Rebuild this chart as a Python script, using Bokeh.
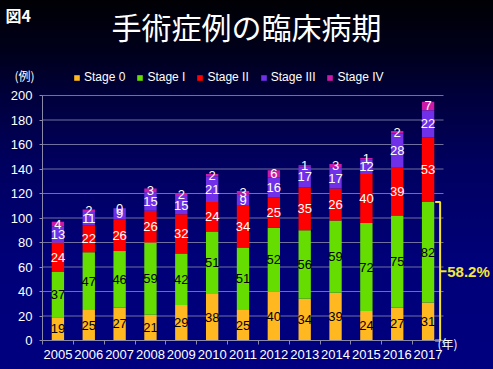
import numpy as np
from bokeh.plotting import figure
from bokeh.models import (Range1d, FixedTicker, Label, Legend, LegendItem, ColumnDataSource, LinearAxis)
from bokeh.core.properties import value
from bokeh.embed import file_html
from bokeh.resources import INLINE

years = ["2005", "2006", "2007", "2008", "2009", "2010", "2011",
         "2012", "2013", "2014", "2015", "2016", "2017"]
stage0 = [19, 25, 27, 21, 29, 38, 25, 40, 34, 39, 24, 27, 31]
stage1 = [37, 47, 46, 59, 42, 51, 51, 52, 56, 59, 72, 75, 82]
stage2 = [24, 22, 26, 26, 32, 24, 34, 25, 35, 26, 40, 39, 53]
stage3 = [13, 11, 9, 15, 15, 21, 9, 16, 17, 17, 12, 28, 22]
stage4 = [4, 2, 0, 3, 2, 2, 3, 6, 1, 3, 1, 2, 7]
stage_names = ["Stage 0", "Stage I", "Stage II", "Stage III", "Stage IV"]
colors = ["#FFB820", "#66DD00", "#FF0000", "#7030E8", "#CC1AA8"]
label_colors = ["black", "black", "white", "white", "white"]
share_text = "58.2%"
y_ticks = list(range(0, 201, 20))
y_max = 200

FONT = "Liberation Sans"
CJK = "Noto Sans CJK JP"

# layout (pixels): whole canvas is the frame; plot area placed inside it
W, H = 493, 369
AREA_L, AREA_R, AREA_T, AREA_B = 42, 443, 95, 340
n = len(years)
px_x = (AREA_R - AREA_L) / n
px_y = (AREA_B - AREA_T) / y_max
x0 = -0.5 - AREA_L / px_x
x1 = n - 0.5 + (W - AREA_R) / px_x
y0 = -(H - AREA_B) / px_y
y1 = y_max + AREA_T / px_y

series = [stage0, stage1, stage2, stage3, stage4]
keys = ["s0", "s1", "s2", "s3", "s4"]
xs = np.arange(n)
data = {"x": xs}
for k, s in zip(keys, series):
    data[k] = s
src = ColumnDataSource(data)

p = figure(width=W, height=H, output_backend="svg", toolbar_location=None,
           x_range=Range1d(x0, x1), y_range=Range1d(y0, y1),
           min_border=0, x_axis_location=None, y_axis_location=None)
p.border_fill_color = None
p.background_fill_color = None
p.outline_line_color = None
p.xgrid.visible = False
p.ygrid.visible = False
p.styles = {"background": "linear-gradient(to bottom, #000004 0%, #00001c 14%, #00003c 26%, #000060 45%, #000078 70%, #000080 100%)"}

# grid lines
p.segment(x0=[-0.5] * len(y_ticks), x1=[n - 0.5] * len(y_ticks), y0=y_ticks, y1=y_ticks,
          line_color="#70709e", line_width=1)

renderers = p.vbar_stack(keys, x="x", width=0.4, source=src, color=colors, line_color=None)

# value labels
cum = np.zeros(n)
for s, c in zip(series, label_colors):
    arr = np.array(s, dtype=float)
    mid = cum + arr / 2
    p.text(x=xs, y=mid, text=[str(v) for v in s], text_color=c, text_align="center",
           text_baseline="middle", text_font=value(FONT), text_font_size="13px")
    cum = cum + arr

# bracket around Stage 0 + Stage I of the last year
top = stage0[-1] + stage1[-1]
last = xs[-1]
p.multi_line(xs=[[last + 0.23, last + 0.39, last + 0.39, last + 0.23],
                 [last + 0.39, last + 0.6]],
             ys=[[0, 0, top, top], [top / 2, top / 2]],
             line_color="#F2E234", line_width=2)

# axes at fixed locations inside the frame
xaxis = LinearAxis(fixed_location=0, bounds=(-0.5, n - 0.5))
yaxis = LinearAxis(fixed_location=-0.5, bounds=(0, y_max))
p.add_layout(xaxis, "below")
p.add_layout(yaxis, "left")
yaxis.ticker = FixedTicker(ticks=y_ticks)
xaxis.ticker = FixedTicker(ticks=list(xs), minor_ticks=[i - 0.5 for i in range(n + 1)])
xaxis.major_label_overrides = {int(i): y for i, y in zip(xs, years)}
for ax in (xaxis, yaxis):
    ax.axis_line_color = "#8a8aa8"
    ax.major_label_text_color = "white"
    ax.major_label_text_font = FONT
    ax.major_label_text_font_size = "13px"
    ax.major_tick_line_color = "#8a8aa8"
    ax.minor_tick_line_color = "#8a8aa8"
xaxis.major_tick_out = 0
xaxis.major_tick_in = 0
xaxis.minor_tick_out = 4
xaxis.minor_tick_in = 0
xaxis.major_label_standoff = 5
yaxis.major_tick_out = 3
yaxis.major_tick_in = 0
yaxis.minor_tick_line_color = None
yaxis.major_label_standoff = 7

# legend
items = [LegendItem(label=nm, renderers=[r]) for nm, r in zip(stage_names, renderers)]
legend = Legend(items=items, orientation="horizontal", location=(73, 285),
                background_fill_alpha=0, border_line_color=None,
                label_text_color="white", label_text_font=FONT, label_text_font_size="12px",
                glyph_width=7, glyph_height=7, label_standoff=4, spacing=11,
                padding=0, margin=0, label_height=14)
p.add_layout(legend, "center")

# texts
p.add_layout(Label(x=246, y=344, x_units="screen", y_units="screen", text="手術症例の臨床病期",
                   text_color="white", text_font=CJK, text_font_size="30px",
                   text_align="center", text_baseline="middle"))
p.add_layout(Label(x=5, y=367, x_units="screen", y_units="screen", text="図4",
                   text_color="white", text_font=CJK, text_font_size="16px", text_font_style="bold",
                   text_align="left", text_baseline="top"))
p.add_layout(Label(x=14, y=294, x_units="screen", y_units="screen", text="(例)",
                   text_color="white", text_font=CJK, text_font_size="12px",
                   text_align="left", text_baseline="middle"))
p.add_layout(Label(x=437, y=26, x_units="screen", y_units="screen", text="(年)",
                   text_color="white", text_font=CJK, text_font_size="12px",
                   text_align="left", text_baseline="middle"))
p.add_layout(Label(x=last + 0.62, y=top / 2, text=share_text,
                   text_color="#F5E63A", text_font=FONT, text_font_size="15px", text_font_style="bold",
                   text_align="left", text_baseline="middle"))

open("out.html", "w").write(file_html(p, INLINE))
